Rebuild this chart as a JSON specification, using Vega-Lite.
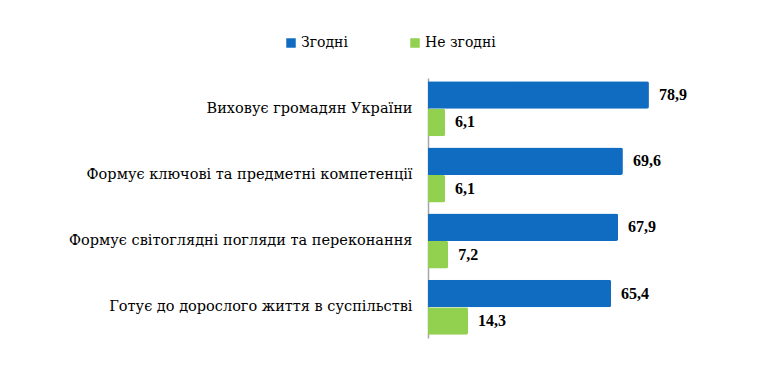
{
  "$schema": "https://vega.github.io/schema/vega-lite/v6.json",
  "autosize": {"type": "none"},
  "width": 280,
  "height": 260,
  "padding": {"left": 428, "top": 78, "right": 71, "bottom": 39},
  "background": "white",
  "config": {
    "view": {"stroke": null},
    "locale": {"number": {"decimal": ",", "thousands": " ", "grouping": [3], "currency": ["", ""]}},
    "font": "DejaVu Serif"
  },
  "data": {
    "values": [
      {"category": "Виховує громадян України", "group": "Згодні", "value": 78.9},
      {"category": "Виховує громадян України", "group": "Не згодні", "value": 6.1},
      {"category": "Формує ключові та предметні компетенції", "group": "Згодні", "value": 69.6},
      {"category": "Формує ключові та предметні компетенції", "group": "Не згодні", "value": 6.1},
      {"category": "Формує світоглядні погляди та переконання", "group": "Згодні", "value": 67.9},
      {"category": "Формує світоглядні погляди та переконання", "group": "Не згодні", "value": 7.2},
      {"category": "Готує до дорослого життя в суспільстві", "group": "Згодні", "value": 65.4},
      {"category": "Готує до дорослого життя в суспільстві", "group": "Не згодні", "value": 14.3}
    ]
  },
  "encoding": {
    "y": {
      "field": "category",
      "type": "nominal",
      "sort": null,
      "title": null,
      "scale": {"paddingInner": 0.17, "paddingOuter": 0.05},
      "axis": {
        "ticks": false,
        "domain": true,
        "domainColor": "#a6a6a6",
        "domainWidth": 1.5,
        "labelFont": "DejaVu Serif",
        "labelFontSize": 14.5,
        "labelColor": "#000000",
        "labelPadding": 16,
        "labelLimit": 420
      }
    },
    "yOffset": {"field": "group", "type": "nominal", "sort": ["Згодні", "Не згодні"]},
    "x": {
      "field": "value",
      "type": "quantitative",
      "scale": {"domain": [0, 100]},
      "axis": null
    }
  },
  "layer": [
    {
      "mark": {"type": "bar", "cornerRadiusEnd": 2},
      "encoding": {
        "color": {
          "field": "group",
          "type": "nominal",
          "sort": ["Згодні", "Не згодні"],
          "scale": {"domain": ["Згодні", "Не згодні"], "range": ["#0f6cc0", "#92d050"]},
          "legend": {
            "orient": "none",
            "direction": "horizontal",
            "legendX": -144,
            "legendY": -42,
            "title": null,
            "symbolType": "square",
            "symbolSize": 90,
            "symbolStrokeWidth": 0,
            "labelFont": "DejaVu Serif",
            "labelFontSize": 14,
            "labelColor": "#000000",
            "labelOffset": 3,
            "columnPadding": 60
          }
        }
      }
    },
    {
      "mark": {"type": "text", "align": "left", "baseline": "middle", "dx": 10, "font": "Liberation Serif", "fontSize": 16, "fontWeight": "bold", "color": "#000000"},
      "encoding": {
        "text": {"field": "value", "type": "quantitative", "format": ".1f"}
      }
    }
  ]
}
